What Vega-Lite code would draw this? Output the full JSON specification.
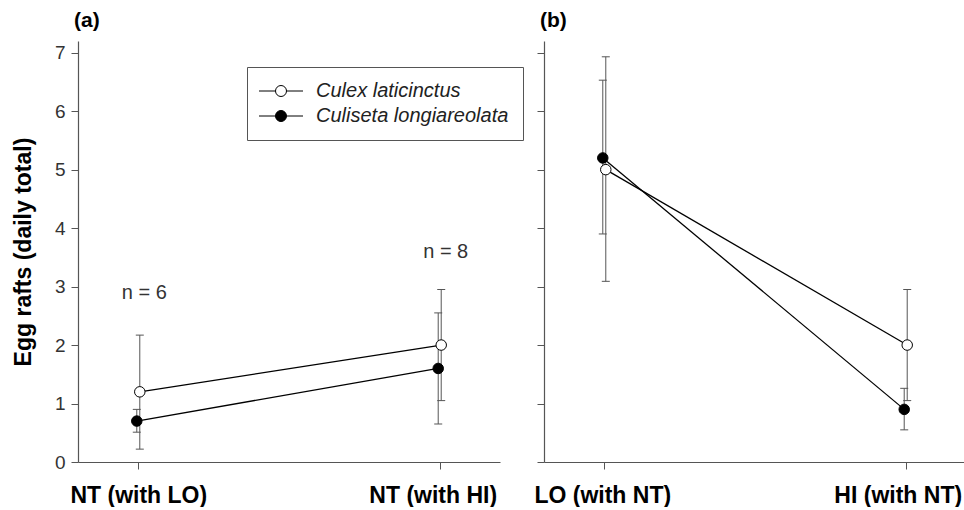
{
  "$schema": "https://vega.github.io/schema/vega-lite/v6.json",
  "background": "white",
  "padding": {"left": 12, "top": 10, "right": 0, "bottom": 0},
  "config": {
    "font": "Liberation Sans",
    "view": {"stroke": null},
    "axis": {"grid": false, "domainColor": "#555", "tickColor": "#555", "tickSize": 7, "domainWidth": 1.2, "tickWidth": 1},
    "title": {"font": "Liberation Sans"}
  },
  "datasets": {
    "means": [
      {"panel": "a", "treatment": "NT (with LO)", "species": "Culex laticinctus", "mean": 1.2, "lo": 0.22, "hi": 2.17},
      {"panel": "a", "treatment": "NT (with LO)", "species": "Culiseta longiareolata", "mean": 0.7, "lo": 0.51, "hi": 0.9},
      {"panel": "a", "treatment": "NT (with  HI)", "species": "Culex laticinctus", "mean": 2.0, "lo": 1.05, "hi": 2.95},
      {"panel": "a", "treatment": "NT (with  HI)", "species": "Culiseta longiareolata", "mean": 1.6, "lo": 0.65, "hi": 2.55},
      {"panel": "b", "treatment": "LO (with NT)", "species": "Culex laticinctus", "mean": 5.0, "lo": 3.09, "hi": 6.93},
      {"panel": "b", "treatment": "LO (with NT)", "species": "Culiseta longiareolata", "mean": 5.2, "lo": 3.9, "hi": 6.53},
      {"panel": "b", "treatment": "HI (with NT)", "species": "Culex laticinctus", "mean": 2.0, "lo": 1.05, "hi": 2.95},
      {"panel": "b", "treatment": "HI (with NT)", "species": "Culiseta longiareolata", "mean": 0.9, "lo": 0.55, "hi": 1.26}
    ],
    "notes": [
      {"panel": "a", "treatment": "NT (with LO)", "y": 2.89, "label": "n = 6"},
      {"panel": "a", "treatment": "NT (with  HI)", "y": 3.6, "label": "n = 8"}
    ]
  },
  "resolve": {"legend": {"fill": "shared"}},
  "spacing": 33,
  "hconcat": [
    {
      "width": 422,
      "height": 421,
      "title": {"text": "(a)", "anchor": "start", "frame": "group", "fontSize": 21, "fontWeight": "bold", "offset": 10, "dx": -4, "color": "black"},
      "data": {"name": "means"},
      "transform": [{"filter": "datum.panel === 'a'"}],
      "encoding": {
        "x": {"field": "treatment", "type": "nominal", "sort": ["NT (with LO)", "NT (with  HI)"], "scale": {"type": "point", "padding": 0.2},
          "axis": {"title": null, "labelAngle": 0, "labelFontSize": 23, "labelFontWeight": "bold", "labelColor": "black", "labelPadding": 15,
            "labelOffset": {"condition": {"test": "datum.value === 'NT (with  HI)'", "value": -7}, "value": 0}}},
        "xOffset": {"field": "species", "type": "nominal", "scale": {"type": "point", "range": [3, -3]}}
      },
      "layer": [
        {
          "mark": {"type": "rule", "color": "#555", "strokeWidth": 1},
          "encoding": {
            "y": {"field": "lo", "type": "quantitative", "scale": {"domain": [0, 7.2], "nice": false},
              "axis": {"values": [0, 1, 2, 3, 4, 5, 6, 7], "format": "d", "title": "Egg rafts (daily total)", "titleFontSize": 23, "titleFontWeight": "bold", "titleColor": "black", "titlePadding": 19, "labelFontSize": 19, "labelColor": "#333", "labelPadding": 6}},
            "y2": {"field": "hi"}
          }
        },
        {
          "mark": {"type": "tick", "color": "#555", "size": 8, "thickness": 1, "opacity": 1},
          "encoding": {"y": {"field": "lo", "type": "quantitative"}}
        },
        {
          "mark": {"type": "tick", "color": "#555", "size": 8, "thickness": 1, "opacity": 1},
          "encoding": {"y": {"field": "hi", "type": "quantitative"}}
        },
        {
          "mark": {"type": "line", "color": "black", "strokeWidth": 1.3},
          "encoding": {
            "y": {"field": "mean", "type": "quantitative"},
            "detail": {"field": "species", "type": "nominal"}
          }
        },
        {
          "mark": {"type": "point", "filled": true, "size": 110, "stroke": "black", "strokeWidth": 1, "opacity": 1},
          "encoding": {
            "y": {"field": "mean", "type": "quantitative"},
            "fill": {"field": "species", "type": "nominal", "scale": {"domain": ["Culex laticinctus", "Culiseta longiareolata"], "range": ["white", "black"]},
              "legend": {"title": null, "orient": "none", "legendX": 169, "legendY": 26, "padding": 14, "strokeColor": "#555", "fillColor": "white",
                "symbolType": "M-4,0H-1M1,0H4M1,0A1,1,0,1,1,-1,0A1,1,0,1,1,1,0Z", "symbolSize": 121, "symbolStrokeColor": "black", "symbolStrokeWidth": 1,
                "symbolOffset": 10, "labelOffset": 25, "labelFontSize": 20, "labelFontStyle": "italic", "labelColor": "#222", "labelLimit": 0, "rowPadding": 5}}
          }
        },
        {
          "data": {"name": "notes"},
          "transform": [{"filter": "datum.panel === 'a'"}],
          "mark": {"type": "text", "fontSize": 20, "color": "#333", "dx": 6},
          "encoding": {
            "xOffset": {"value": 0},
            "y": {"field": "y", "type": "quantitative"},
            "text": {"field": "label", "type": "nominal"}
          }
        }
      ]
    },
    {
      "width": 422,
      "height": 421,
      "title": {"text": "(b)", "anchor": "start", "frame": "group", "fontSize": 21, "fontWeight": "bold", "offset": 10, "dx": -4, "color": "black"},
      "data": {"name": "means"},
      "transform": [{"filter": "datum.panel === 'b'"}],
      "encoding": {
        "x": {"field": "treatment", "type": "nominal", "sort": ["LO (with NT)", "HI (with NT)"], "scale": {"type": "point", "padding": 0.2},
          "axis": {"title": null, "labelAngle": 0, "labelFontSize": 23, "labelFontWeight": "bold", "labelColor": "black", "labelPadding": 15,
            "labelOffset": {"condition": {"test": "datum.value === 'HI (with NT)'", "value": -8}, "value": -2}}},
        "xOffset": {"field": "species", "type": "nominal", "scale": {"type": "point", "range": [3, -3]}}
      },
      "layer": [
        {
          "mark": {"type": "rule", "color": "#555", "strokeWidth": 1},
          "encoding": {
            "y": {"field": "lo", "type": "quantitative", "scale": {"domain": [0, 7.2], "nice": false},
              "axis": {"values": [0, 1, 2, 3, 4, 5, 6, 7], "title": null, "labels": false}},
            "y2": {"field": "hi"}
          }
        },
        {
          "mark": {"type": "tick", "color": "#555", "size": 8, "thickness": 1, "opacity": 1},
          "encoding": {"y": {"field": "lo", "type": "quantitative"}}
        },
        {
          "mark": {"type": "tick", "color": "#555", "size": 8, "thickness": 1, "opacity": 1},
          "encoding": {"y": {"field": "hi", "type": "quantitative"}}
        },
        {
          "mark": {"type": "line", "color": "black", "strokeWidth": 1.3},
          "encoding": {
            "y": {"field": "mean", "type": "quantitative"},
            "detail": {"field": "species", "type": "nominal"}
          }
        },
        {
          "mark": {"type": "point", "filled": true, "size": 110, "stroke": "black", "strokeWidth": 1, "opacity": 1},
          "encoding": {
            "y": {"field": "mean", "type": "quantitative"},
            "fill": {"field": "species", "type": "nominal", "scale": {"domain": ["Culex laticinctus", "Culiseta longiareolata"], "range": ["white", "black"]}}
          }
        }
      ]
    }
  ]
}
